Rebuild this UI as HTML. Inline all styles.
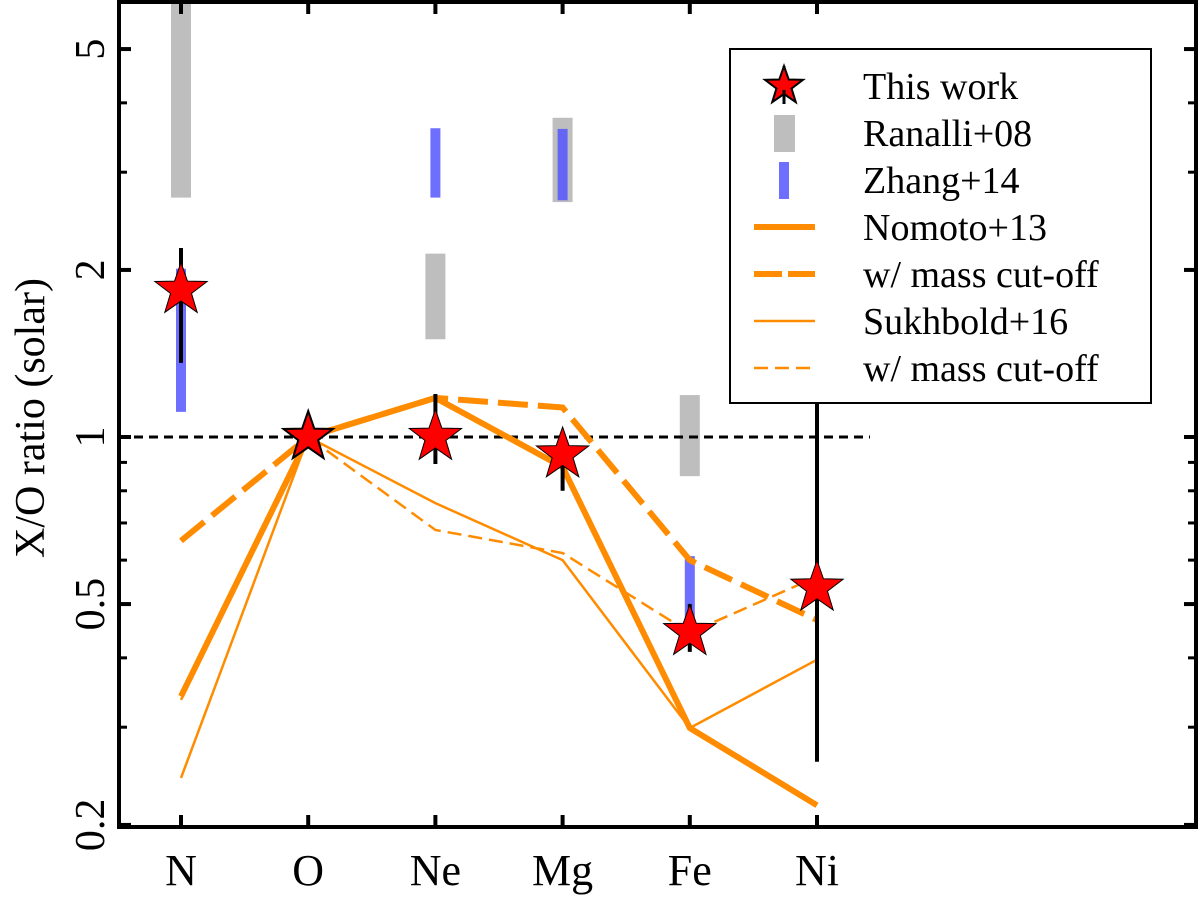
<!DOCTYPE html>
<html><head><meta charset="utf-8"><style>
html,body{margin:0;padding:0;background:#fff;}
svg{display:block;}
text{font-family:"Liberation Serif","Times New Roman","Noto Serif CJK SC","DejaVu Serif",serif;}
</style></head><body>
<svg id="chart" width="1200" height="900" viewBox="0 0 1200 900" xmlns="http://www.w3.org/2000/svg">
<g id="plot"></g>
<g id="legend"></g>
</svg>
<script>
const elements = ["N","O","Ne","Mg","Fe","Ni"];
const thisWork = [1.84, 1.0, 1.0, 0.93, 0.445, 0.535];
const thisWorkLo = [1.36, 1.0, 0.894, 0.80, 0.41, 0.26];
const thisWorkHi = [2.19, 1.0, 1.195, 1.02, 0.50, 1.15];
const ranalliLo = [2.7, null, 1.5, 2.65, 0.85, null];
const ranalliHi = [7.0, null, 2.14, 3.76, 1.19, null];
const zhangLo = [1.11, null, 2.7, 2.67, 0.44, null];
const zhangHi = [2.01, null, 3.6, 3.59, 0.61, null];
const nomoto = [0.341, 1.0, 1.176, 0.883, 0.299, 0.217];
const nomotoCut = [0.65, 1.0, 1.176, 1.13, 0.60, 0.468];
const sukhbold = [0.243, 1.0, 0.76, 0.60, 0.299, 0.397];
const sukhboldCut = [0.336, 1.0, 0.68, 0.618, 0.444, 0.56];
const majorTicks = [0.2, 0.5, 1, 2, 5];
const majorLabels = ["0.2","0.5","1","2","5"];
const minorTicks = [0.3,0.4,0.6,0.7,0.8,0.9,3,4];

const NS="http://www.w3.org/2000/svg";
const L=119,R=1196,T=2,B=827;
const X0=181,DX=127.2;
function xs(i){return X0+i*DX;}
function ys(v){return 437-555*Math.log10(v);}
const plot=document.getElementById('plot');
const legend=document.getElementById('legend');
function mk(tag,attrs,parent){const e=document.createElementNS(NS,tag);for(const k in attrs)e.setAttribute(k,attrs[k]);(parent||plot).appendChild(e);return e;}

const clip=mk('clipPath',{id:'clip'});mk('rect',{x:L,y:T,width:R-L,height:B-T},clip);
const g=mk('g',{'clip-path':'url(#clip)'});

elements.forEach((el,i)=>{if(ranalliLo[i]==null)return;
 const r=mk('rect',{x:xs(i)-10,y:ys(ranalliHi[i]),width:20,height:ys(ranalliLo[i])-ys(ranalliHi[i]),fill:'#bebebe'},g);
 
 });
elements.forEach((el,i)=>{if(zhangLo[i]==null)return;
 const r=mk('rect',{x:xs(i)-5,y:ys(zhangHi[i]),width:10,height:ys(zhangLo[i])-ys(zhangHi[i]),fill:'#5555ff','fill-opacity':0.85},g);
 
 });
const ref=mk('line',{x1:L,x2:870,y1:ys(1),y2:ys(1),stroke:'#000','stroke-width':3,'stroke-dasharray':'9,6'},g);



function series(arr,w,dash,name){
 const d=arr.map((v,i)=>(i?'L':'M')+xs(i)+','+ys(v)).join(' ');
 const p=mk('path',{d:d,fill:'none',stroke:'#ff8c00','stroke-width':w,'stroke-dasharray':dash||'none','stroke-linejoin':'miter'},g);
 
 }
series(sukhbold,2.5,null,'sukhbold16-line');
series(sukhboldCut,2.5,'14,7','sukhbold16-cutoff-line');
series(nomoto,6,null,'nomoto13-line');
series(nomotoCut,6,'30,10','nomoto13-cutoff-line');

function starPts(cx,cy,r){const pts=[];for(let k=0;k<10;k++){const a=-Math.PI/2+k*Math.PI/5;const rr=k%2?r*0.4:r;pts.push((cx+rr*Math.cos(a)).toFixed(1)+','+(cy+rr*Math.sin(a)).toFixed(1));}return pts.join(' ');}
elements.forEach((el,i)=>{
 const s=mk('polygon',{points:starPts(xs(i),ys(thisWork[i]),26),fill:'#ff0000',stroke:'#000','stroke-width':2},g);
 
 
 if(thisWorkHi[i]!==thisWorkLo[i]){
  const e=mk('line',{x1:xs(i),x2:xs(i),y1:ys(thisWorkHi[i]),y2:ys(thisWorkLo[i]),stroke:'#000','stroke-width':4},g);
  
  
  const s2=mk('polygon',{points:starPts(xs(i),ys(thisWork[i]),26),fill:'#ff0000',stroke:'none'},g);
  
  }
});

const fr=mk('rect',{x:L,y:T,width:R-L,height:B-T,fill:'none',stroke:'#000','stroke-width':4});


majorTicks.forEach((v,i)=>{const y=ys(v);
 mk('line',{x1:L,x2:L+12,y1:y,y2:y,stroke:'#000','stroke-width':4});
 mk('line',{x1:R-12,x2:R,y1:y,y2:y,stroke:'#000','stroke-width':4});
 const t=mk('text',{x:0,y:0,transform:'translate(104,'+y+') rotate(-90)','text-anchor':'middle','font-size':42});
 t.textContent=majorLabels[i];
 
 });
minorTicks.forEach(v=>{const y=ys(v);
 mk('line',{x1:L,x2:L+8,y1:y,y2:y,stroke:'#000','stroke-width':3});
 mk('line',{x1:R-8,x2:R,y1:y,y2:y,stroke:'#000','stroke-width':3});});
elements.forEach((el,i)=>{const x=xs(i);
 mk('line',{x1:x,x2:x,y1:B-12,y2:B,stroke:'#000','stroke-width':4});
 mk('line',{x1:x,x2:x,y1:T,y2:T+12,stroke:'#000','stroke-width':4});
 const t=mk('text',{x:x,y:885,'text-anchor':'middle','font-size':44});
 t.textContent=el;
 
 });
const yl=mk('text',{x:0,y:0,transform:'translate(44,418) rotate(-90)','text-anchor':'middle','font-size':42});
yl.textContent='X/O ratio (solar)';



const lb=mk('rect',{x:730,y:49,width:421,height:354,fill:'#fff',stroke:'#000','stroke-width':2},legend);


const labels=["This work","Ranalli+08","Zhang+14","Nomoto+13","w/ mass cut-off","Sukhbold+16","w/ mass cut-off"];
labels.forEach((lab,k)=>{const cy=86+k*47;
 const ge=mk('g',{},legend);
 
 
 const t=mk('text',{x:863,y:cy+13,'font-size':38},ge);t.textContent=lab;
 if(k===0){mk('line',{x1:784,x2:784,y1:cy-20,y2:cy+18,stroke:'#000','stroke-width':3},ge);mk('polygon',{points:starPts(784,cy,20),fill:'#ff0000',stroke:'#000','stroke-width':2},ge);mk('line',{x1:784,x2:784,y1:cy+4,y2:cy+18,stroke:'#000','stroke-width':3},ge);}
 if(k===1)mk('rect',{x:774,y:cy-18,width:21,height:37,fill:'#bebebe'},ge);
 if(k===2)mk('rect',{x:779,y:cy-18,width:10,height:37,fill:'#5555ff','fill-opacity':0.85},ge);
 if(k>=3){const w=k<5?6:2.5;const dash=k===4?'28,6':(k===6?'14,7':'none');
  mk('line',{x1:754,x2:815,y1:cy,y2:cy,stroke:'#ff8c00','stroke-width':w,'stroke-dasharray':dash},ge);}
});
</script>
</body></html>
